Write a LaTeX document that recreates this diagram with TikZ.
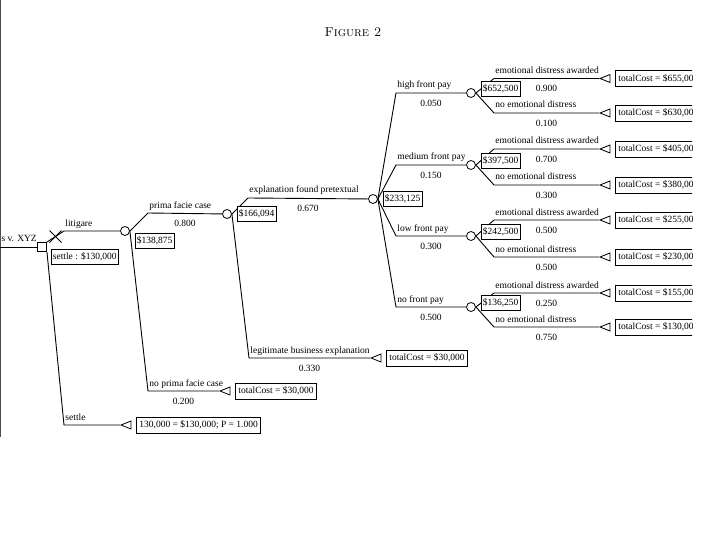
\documentclass[tikz,border=0pt]{standalone}
\usepackage{fontspec}
\newfontfamily\treefont{Liberation Serif}
\usetikzlibrary{shapes.geometric,calc,positioning}

\begin{document}
\begin{tikzpicture}[
    x=1pt, y=-1pt,
    every node/.style={font=\treefont\fontsize{9.5}{11}\selectfont},
    branch/.style={line width=0.9pt},
    decision/.style={draw, line width=0.9pt, rectangle, minimum size=9pt, inner sep=0pt},
    chance/.style={draw, line width=0.8pt, circle, minimum size=9pt, inner sep=0pt},
    terminal/.style={draw, line width=0.8pt, isosceles triangle, shape border rotate=180, isosceles triangle stretches, minimum width=8pt, minimum height=10pt, inner sep=0pt, anchor=apex},
    evbox/.style={draw, fill=white, line width=0.7pt, inner sep=1.5pt, minimum height=15pt},
    payoff/.style={draw, line width=0.9pt, inner sep=2.5pt, minimum height=16pt},
    lbl/.style={anchor=base west, inner sep=0pt, xshift=1pt, yshift=5pt},
    prob/.style={anchor=north, inner sep=0pt, yshift=-6.5pt}
]
\useasboundingbox (0,0) rectangle (720,540);
\clip (0,0) rectangle (692,540);

% title and page edge
\node[font=\fontsize{13}{15}\selectfont] (title) at (353,32) {\textsc{Figure 2}};
\draw[line width=1.2pt, black!70] (0.6,0) -- (0.6,437);

% root decision
\coordinate (start) at (0,247);
\node[decision] (root) at (42,247) {};
\node[anchor=south east, inner sep=1pt] (case) at (38,243) {s v. XYZ};
\draw[branch] (start) -- (root);

% litigate / settle
\coordinate (kLit) at (64,231);
\node[chance] (c1) at (125,231) {};
\draw[branch] (root.north east) -- (kLit) -- node[at start, lbl] (lLit) {litigare} (c1);
\path (root.north east) -- (kLit) coordinate[pos=0.5] (xm);
\draw[branch] ($(xm)+(-6,6)$) -- ($(xm)+(6,-6)$);
\draw[branch] ($(xm)+(-6,-6)$) -- ($(xm)+(6,6)$);
\node[evbox, anchor=north west] (evRoot) at (51,249) {settle : \$130,000};

\coordinate (kSettle) at (64,425);
\node[terminal] (tSettle) at (120,425) {};
\draw[branch] (root.south east) -- (kSettle) -- node[at start, lbl] (lSettle) {settle} (tSettle.apex);
\node[payoff, right=5pt of tSettle] (vSettle) {130,000 = \$130,000; P = 1.000};

% prima facie case
\coordinate (kPrima) at (148,213);
\node[chance] (c2) at (227,214) {};
\draw[branch] (c1.east) -- (kPrima) -- node[at start, lbl] (lPrima) {prima facie case} node[prob] (pPrima) {0.800} (c2);
\node[evbox, anchor=north west] (ev1) at (135,233) {\$138,875};

\coordinate (kNoPrima) at (148,391);
\node[terminal] (tNoPrima) at (219,391) {};
\draw[branch] (c1.east) -- (kNoPrima) -- node[at start, lbl] (lNoPrima) {no prima facie case} node[prob] (pNoPrima) {0.200} (tNoPrima.apex);
\node[payoff, right=5pt of tNoPrima] (vNoPrima) {totalCost = \$30,000};

% explanation
\coordinate (kPretext) at (248,198);
\node[chance] (c3) at (373,199) {};
\draw[branch] (c2.east) -- (kPretext) -- node[at start, lbl] (lPretext) {explanation found pretextual} node[prob] (pPretext) {0.670} (c3);
\node[evbox, right=5pt of c2] (ev2) {\$166,094};

\coordinate (kLegit) at (249,358);
\node[terminal] (tLegit) at (370,358) {};
\draw[branch] (c2.east) -- (kLegit) -- node[at start, lbl] (lLegit) {legitimate business explanation} node[prob] (pLegit) {0.330} (tLegit.apex);
\node[payoff, right=5pt of tLegit] (vLegit) {totalCost = \$30,000};

% front pay
\foreach \fp/\y/\txt/\p in {fpHigh/93/high front pay/0.050, fpMed/165/medium front pay/0.150,
    fpLow/236/low front pay/0.300, fpNone/307/no front pay/0.500}{
  \coordinate (k\fp) at (396,\y);
  \node[chance] (\fp) at (471,\y) {};
  \draw[branch] (c3.east) -- (k\fp) -- node[at start, lbl] (l\fp) {\txt} node[prob] (p\fp) {\p} (\fp);
}

% emotional distress
\foreach \fp/\yu/\yd/\pu/\pd/\vu/\vd [count=\i] in {
    fpHigh/78.5/113/0.900/0.100/655/630,
    fpMed/149/185/0.700/0.300/405/380,
    fpLow/220/257/0.500/0.500/255/230,
    fpNone/293/327/0.250/0.750/155/130}{
  \coordinate (kA\i) at (494,\yu);
  \coordinate (kB\i) at (494,\yd);
  \node[terminal] (tA\i) at (599,\yu) {};
  \node[terminal] (tB\i) at (599,\yd) {};
  \draw[branch] (\fp.east) -- (kA\i) -- node[at start, lbl] (lA\i) {emotional distress awarded} node[prob] (pA\i) {\pu} (tA\i.apex);
  \draw[branch] (\fp.east) -- (kB\i) -- node[at start, lbl] (lB\i) {no emotional distress} node[prob] (pB\i) {\pd} (tB\i.apex);
  \node[payoff, right=5pt of tA\i] (vA\i) {totalCost = \$\vu,000};
  \node[payoff, right=5pt of tB\i] (vB\i) {totalCost = \$\vd,000};
}

\node[evbox, right=5pt of c3] (ev3) {\$233,125};
\node[evbox, right=5pt of fpHigh, yshift=4pt] (evHigh) {\$652,500};
\node[evbox, right=5pt of fpMed, yshift=4pt] (evMed) {\$397,500};
\node[evbox, right=5pt of fpLow, yshift=4pt] (evLow) {\$242,500};
\node[evbox, right=5pt of fpNone, yshift=4pt] (evNone) {\$136,250};
\end{tikzpicture}
\end{document}
